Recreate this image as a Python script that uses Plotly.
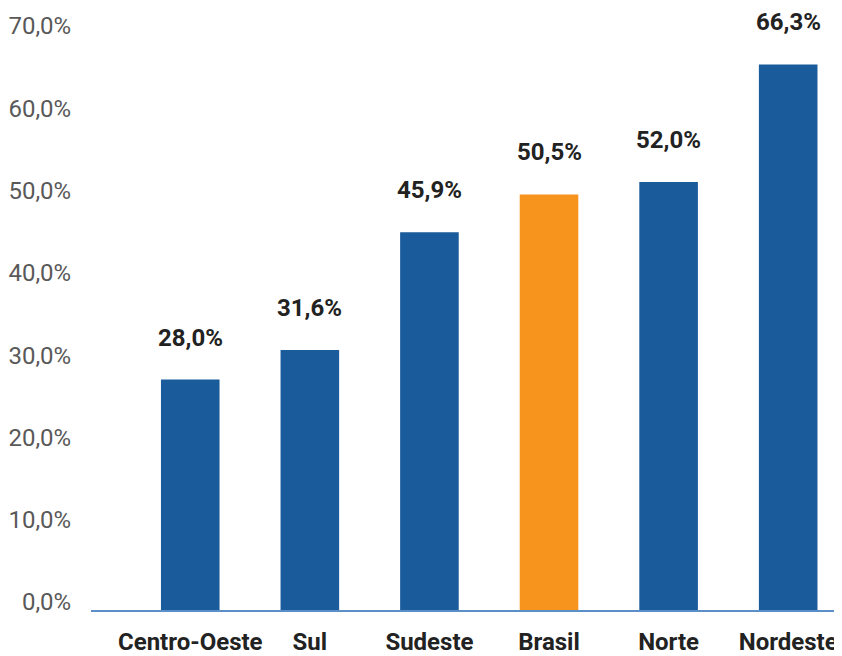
import plotly.graph_objects as go

categories = ["Centro-Oeste", "Sul", "Sudeste", "Brasil", "Norte", "Nordeste"]
values = [28.0, 31.6, 45.9, 50.5, 52.0, 66.3]
value_labels = ["28,0%", "31,6%", "45,9%", "50,5%", "52,0%", "66,3%"]
tick_vals = [0, 10, 20, 30, 40, 50, 60, 70]
tick_text = ["0,0%", "10,0%", "20,0%", "30,0%", "40,0%", "50,0%", "60,0%", "70,0%"]

BLUE = "#1a5b9b"
ORANGE = "#f7941d"
colors = [ORANGE if c == "Brasil" else BLUE for c in categories]

fig = go.Figure()
fig.add_trace(go.Bar(
    x=categories, y=values, marker_color=colors, width=0.49,
    marker_line_width=0, hoverinfo="skip",
))

for c, v, t in zip(categories, values, value_labels):
    fig.add_annotation(x=c, y=v, text="<b>" + t + "</b>", showarrow=False,
                       yanchor="middle", yshift=42,
                       font=dict(family="Roboto", size=24, color="#222222"))

# page body has an 8px margin, so the figure is sized to fit the window
fig.update_layout(
    width=834, height=648,
    margin=dict(l=78, r=0, t=26, b=41),
    paper_bgcolor="white", plot_bgcolor="white",
    showlegend=False,
    font=dict(family="Roboto"),
    xaxis=dict(
        type="category", range=[-0.83, 5.45],
        showgrid=False, zeroline=False,
        showline=True, linecolor="#5b8fc8", linewidth=2,
        ticks="outside", ticklen=9, tickcolor="rgba(0,0,0,0)",
        tickfont=dict(family="Roboto", size=24, color="#222222", weight="bold"),
    ),
    yaxis=dict(
        range=[0, 70], tickvals=tick_vals, ticktext=tick_text,
        showgrid=False, zeroline=False, showline=False,
        ticklabelshift=-8,
        ticks="outside", ticklen=14, tickcolor="rgba(0,0,0,0)",
        tickfont=dict(family="Roboto", size=24, color="#595959"),
    ),
)

fig.write_html("out.html")
